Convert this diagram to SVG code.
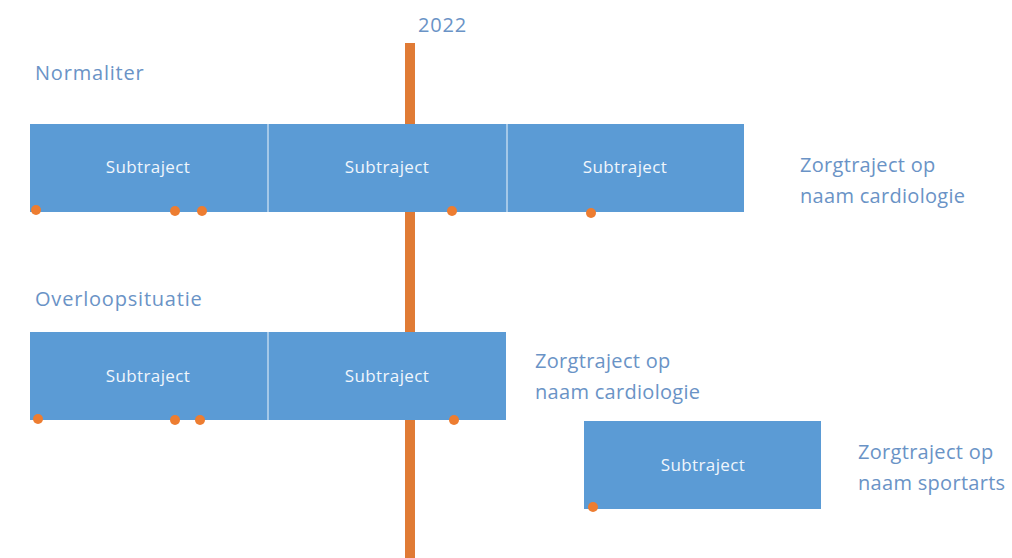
<svg xmlns="http://www.w3.org/2000/svg" width="1012" height="558" viewBox="0 0 1012 558">
<style>
.box{fill:#5b9bd5;}
.sep{stroke:#ffffff;stroke-width:1.5;opacity:0.6;}
.st{font-family:"Open Sans","Liberation Sans",sans-serif;font-size:17px;letter-spacing:0.4px;fill:#f0f6fc;text-anchor:middle;dominant-baseline:middle;}
.lbl{font-family:"Open Sans","Liberation Sans",sans-serif;font-size:20px;letter-spacing:0.8px;fill:#6a93c6;}
.zt{font-family:"Open Sans","Liberation Sans",sans-serif;font-size:20px;letter-spacing:0.3px;fill:#6a93c6;}
.dot{fill:#ed7d31;}
</style>
<rect width="1012" height="558" fill="#ffffff"/>
<g id="timeline">
<rect x="405" y="43" width="10" height="515" fill="#e07b35"/>
<text class="lbl" x="418" y="32">2022</text>
</g>
<text class="lbl" x="35" y="80">Normaliter</text>
<text class="lbl" x="35" y="306">Overloopsituatie</text>
<g id="row1">
<g id="r1b1"><rect class="box" x="30" y="124" width="238" height="88"/><text class="st" x="148" y="168">Subtraject</text></g>
<g id="r1b2"><rect class="box" x="268" y="124" width="239" height="88"/><text class="st" x="387" y="168">Subtraject</text></g>
<g id="r1b3"><rect class="box" x="507" y="124" width="237" height="88"/><text class="st" x="625" y="168">Subtraject</text></g>
<line class="sep" x1="268" y1="124" x2="268" y2="212"/>
<line class="sep" x1="507" y1="124" x2="507" y2="212"/>
<circle class="dot" cx="36" cy="210" r="5"/>
<circle class="dot" cx="175" cy="211" r="5"/>
<circle class="dot" cx="202" cy="211" r="5"/>
<circle class="dot" cx="452" cy="211" r="5"/>
<circle class="dot" cx="591" cy="213" r="5"/>
</g>
<g id="label1"><text class="zt" x="800" y="172">Zorgtraject op</text><text class="zt" x="800" y="203">naam cardiologie</text></g>
<g id="row2">
<g id="r2b1"><rect class="box" x="30" y="332" width="238" height="88"/><text class="st" x="148" y="377">Subtraject</text></g>
<g id="r2b2"><rect class="box" x="268" y="332" width="238" height="88"/><text class="st" x="387" y="377">Subtraject</text></g>
<line class="sep" x1="268" y1="332" x2="268" y2="420"/>
<circle class="dot" cx="38" cy="419" r="5"/>
<circle class="dot" cx="175" cy="420" r="5"/>
<circle class="dot" cx="200" cy="420" r="5"/>
<circle class="dot" cx="454" cy="420" r="5"/>
</g>
<g id="label2"><text class="zt" x="535" y="368">Zorgtraject op</text><text class="zt" x="535" y="399">naam cardiologie</text></g>
<g id="box3"><rect class="box" x="584" y="421" width="237" height="88"/><text class="st" x="703" y="466">Subtraject</text>
<circle class="dot" cx="593" cy="507" r="5"/></g>
<g id="label3"><text class="zt" x="858" y="459">Zorgtraject op</text><text class="zt" x="858" y="490">naam sportarts</text></g>
</svg>
